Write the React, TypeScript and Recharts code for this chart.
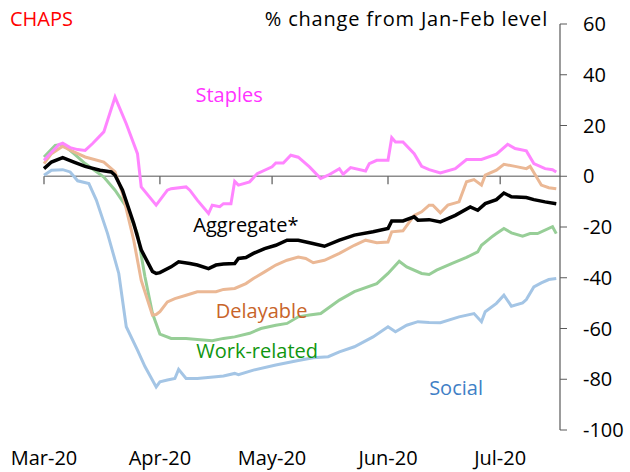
import React from "react";
import {
  LineChart,
  Line,
  XAxis,
  YAxis,
  ReferenceLine,
  ReferenceDot,
} from "recharts";

// x values are days since 1 Mar 2020
const monthTicks = [0, 31, 61, 92, 122];
const monthLabels = ["Mar-20", "Apr-20", "May-20", "Jun-20", "Jul-20"];
const yTicks = [-100, -80, -60, -40, -20, 0, 20, 40, 60];

const staplesDays = [0, 4, 5, 7, 9, 11, 13, 16, 19, 22, 25, 26, 30, 33, 34, 38, 39, 41, 44, 45, 47, 48, 50, 51, 52, 55, 57, 61, 62, 64, 66, 68, 71, 74, 76, 79, 80, 82, 86, 87, 89, 92, 93, 94, 96, 99, 101, 103, 106, 110, 113, 117, 121, 124, 126, 129, 131, 134, 136, 137];
const staplesValues = [6.3, 12.5, 13, 11.3, 10.5, 10.2, 12.9, 17.5, 31.2, 20.7, 8.9, -4.2, -11.4, -5.5, -4.9, -4.2, -5.5, -9.4, -14.7, -11.4, -12, -10.8, -10.8, -2, -3.5, -2.2, 1, 3.7, 5.2, 5.2, 8.3, 7.5, 3.7, -0.9, 0.4, 3, 0.8, 3.4, 2.1, 5, 6.3, 6.3, 15.2, 13.5, 13.5, 8.9, 3.9, 2.6, 1.3, 3, 6.6, 6.6, 8.7, 12.6, 10.9, 10, 5, 3, 2.6, 1.7];

const aggregateDays = [0, 2, 5, 8, 11, 15, 18, 19, 21, 24, 26, 29, 30, 31, 34, 36, 39, 41, 44, 46, 48, 51, 52, 54, 56, 59, 62, 65, 68, 71, 75, 79, 83, 88, 92, 93, 96, 99, 100, 103, 106, 110, 114, 116, 118, 121, 123, 125, 129, 131, 134, 137];
const aggregateValues = [3, 5.6, 7.3, 5.6, 3.9, 2.4, 1.7, 0.4, -5.5, -18.6, -29, -37.5, -38.3, -38, -35.7, -33.7, -34.4, -35, -36.4, -35, -34.6, -34.4, -32.4, -32, -30.4, -28.5, -27.2, -25.2, -25.2, -26.2, -27.6, -25.2, -23.2, -21.9, -20.6, -17.6, -17.6, -16, -17.3, -17.1, -18, -15.4, -12.1, -13.4, -10.8, -9.2, -6.6, -8.1, -8.4, -9.2, -10.1, -10.8];

const delayableDays = [0, 2, 5, 8, 11, 16, 19, 21, 24, 26, 29, 30, 31, 33, 35, 38, 41, 46, 48, 51, 54, 56, 59, 62, 65, 68, 70, 72, 75, 79, 83, 86, 89, 92, 93, 96, 99, 101, 103, 104, 106, 108, 111, 113, 115, 117, 118, 121, 123, 126, 129, 130, 133, 135, 137];
const delayableValues = [5, 8.9, 11.8, 9.6, 7.6, 5.6, 1.7, -6.8, -25.2, -41, -54.7, -54.5, -53.4, -49.5, -48.2, -46.9, -45.5, -45.5, -44.6, -44.2, -42.3, -40.3, -37.7, -35, -33.1, -31.8, -32.4, -34.1, -33.1, -30.4, -27.2, -25.2, -26.2, -25.9, -21.9, -21.5, -15.4, -14, -11.4, -11.4, -14.4, -11.4, -10.1, -2.2, -1.3, -3.5, 0.4, 2.4, 4.7, 3.9, 3, 3.9, -3.5, -4.5, -4.9];

const workDays = [0, 3, 5, 8, 11, 16, 19, 22, 25, 27, 29, 31, 34, 38, 41, 45, 48, 51, 55, 58, 62, 65, 68, 71, 74, 79, 83, 89, 92, 95, 97, 101, 103, 105, 109, 113, 116, 117, 120, 121, 123, 125, 128, 130, 132, 136, 137];
const workValues = [7.6, 12.2, 12.6, 8.9, 5, -0.3, -5.5, -12, -22.6, -39.6, -54, -62.2, -63.9, -63.9, -64.3, -64.8, -63.9, -63.3, -61.9, -60, -58.7, -58, -55.4, -54.7, -54.1, -48.8, -45.5, -42.3, -38.3, -33.5, -35.7, -38.3, -38.7, -37, -34.4, -32, -29.8, -27.2, -23.6, -22.6, -20.6, -22.3, -23.6, -22.6, -22.6, -19.9, -22.6];

const socialDays = [0, 2, 5, 7, 9, 12, 14, 17, 20, 22, 25, 27, 30, 31, 33, 35, 36, 38, 41, 46, 48, 51, 52, 56, 62, 68, 72, 76, 79, 83, 88, 92, 94, 97, 100, 103, 106, 111, 115, 117, 118, 121, 123, 125, 128, 129, 131, 133, 135, 137];
const socialValues = [0.4, 2.4, 2.6, 1.7, -1.8, -2.9, -9.4, -22.6, -38.3, -59.3, -68.5, -75, -83, -81, -80.3, -79.7, -76.1, -79.7, -79.7, -79, -78.7, -77.7, -78.2, -76.4, -74.4, -72.6, -71.5, -71.1, -69.2, -67.2, -63.3, -59.3, -61.3, -58.7, -57.3, -57.6, -57.7, -55.4, -54.1, -57.3, -53.4, -50.1, -46.9, -51.2, -49.9, -48.6, -43.6, -42, -40.7, -40.3];

const toRows = (days: number[], values: number[]) =>
  days.map((day, i) => ({ day, v: values[i] }));

const series = [
  { name: "Social", rows: toRows(socialDays, socialValues), color: "#A4C5E5", width: 3 },
  { name: "Work-related", rows: toRows(workDays, workValues), color: "#97CE97", width: 3 },
  { name: "Delayable", rows: toRows(delayableDays, delayableValues), color: "#EBB895", width: 3 },
  { name: "Staples", rows: toRows(staplesDays, staplesValues), color: "#FF85FF", width: 3 },
  { name: "Aggregate*", rows: toRows(aggregateDays, aggregateValues), color: "#000000", width: 3.5 },
];

// in-chart labels: [text, day, value, colour]
const seriesLabels: [string, number, number, string][] = [
  ["Staples", 49.5, 31.9, "#FF33FF"],
  ["Aggregate*", 54, -19.3, "#000000"],
  ["Delayable", 58.2, -53.1, "#C8642A"],
  ["Work-related", 57, -68.9, "#10960F"],
  ["Social", 110.2, -83.5, "#3F80C6"],
];

const font = "'Open Sans', sans-serif";
const fs = 20;

export default function App() {
  return (
    <div style={{ position: "absolute", left: 0, top: 0, width: 630, height: 472, fontFamily: font }}>
      <LineChart width={630} height={472} margin={{ top: 24, right: 0, bottom: 0, left: 44 }}>
        <XAxis
          dataKey="day"
          type="number"
          domain={[0, 138]}
          ticks={monthTicks}
          interval={0}
          tickFormatter={(d: number) => monthLabels[monthTicks.indexOf(d)]}
          axisLine={false}
          tickLine={false}
          tickSize={0}
          tickMargin={21}
          height={42}
          tick={{ fill: "#000", fontSize: fs, fontFamily: font }}
        />
        <YAxis
          orientation="right"
          domain={[-100, 60]}
          ticks={yTicks}
          interval={0}
          width={70}
          axisLine={{ stroke: "#595959", strokeWidth: 1.2 }}
          tickLine={{ stroke: "#595959" }}
          tickSize={7}
          tickMargin={16}
          tick={{ fill: "#000", fontSize: fs, fontFamily: font, textAnchor: "start" }}
        />
        <ReferenceLine y={0} stroke="#8C8C8C" strokeWidth={1.5} />
        {monthTicks.map((d) => (
          <ReferenceLine
            key={d}
            segment={[{ x: d, y: 0 }, { x: d, y: -3.2 }]}
            stroke="#595959"
            strokeWidth={1.2}
          />
        ))}
        {series.map((s) => (
          <Line
            key={s.name}
            data={s.rows}
            dataKey="v"
            type="linear"
            stroke={s.color}
            strokeWidth={s.width}
            dot={false}
            isAnimationActive={false}
          />
        ))}
        {seriesLabels.map(([text, d, v, c]) => (
          <ReferenceDot
            key={text}
            x={d}
            y={v}
            r={0}
            fill="none"
            stroke="none"
            label={{ value: text, position: "center", fill: c, fontSize: fs, fontFamily: font }}
          />
        ))}
      </LineChart>
      <div style={{ position: "absolute", left: 10, top: 5, color: "#FF0000", fontSize: fs }}>CHAPS</div>
      <div style={{ position: "absolute", right: 82, top: 5, color: "#000", fontSize: fs, letterSpacing: 0.8 }}>
        % change from Jan-Feb level
      </div>
    </div>
  );
}
